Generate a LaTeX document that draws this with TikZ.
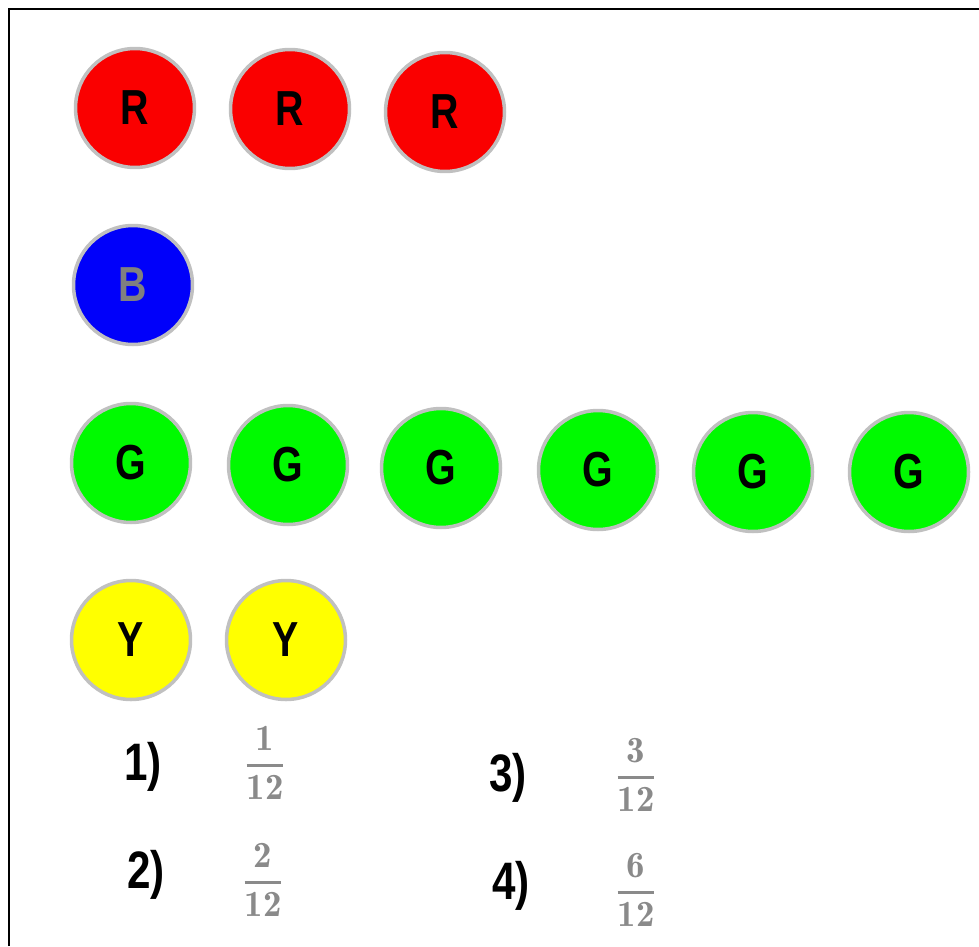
\documentclass[tikz,border=0pt]{standalone}
\usepackage{amsmath}
\usepackage{graphicx}
\usepackage{fontspec}
\setsansfont{Liberation Sans}
\definecolor{ballR}{HTML}{FA0000}
\definecolor{ballB}{HTML}{0000FA}
\definecolor{ballG}{HTML}{00FA00}
\definecolor{ballY}{HTML}{FFFF00}
\definecolor{rim}{HTML}{C0C0C0}
\definecolor{fracgray}{HTML}{8A8A8A}
\newcommand{\narrow}[1]{\scalebox{0.8}[1]{#1}}
\newcommand{\grayfrac}[2]{$\genfrac{}{}{1.6pt}{0}{\mathbf{#1}}{\mathbf{#2}}$}
\tikzset{
  ball/.style={circle, draw=rim, line width=2pt, minimum size=2.38cm, inner sep=0pt,
    font=\fontsize{28}{30}\selectfont\sffamily\bfseries},
  red ball/.style={ball, fill=ballR, text=black},
  blue ball/.style={ball, fill=ballB, text=gray},
  green ball/.style={ball, fill=ballG, text=black},
  yellow ball/.style={ball, fill=ballY, text=black},
  choice/.style={font=\fontsize{30}{32}\selectfont\sffamily\bfseries, text=black, inner sep=0pt},
  answer/.style={font=\fontsize{21}{26}\selectfont, text=fracgray, inner sep=0pt},
  frame line/.style={line width=1.6pt, black}
}
\begin{document}
\begin{tikzpicture}[x=0.02cm,y=-0.02cm]
\useasboundingbox (0,0) rectangle (979,946);
\coordinate (ftl) at (9,9);
\coordinate (ftr) at (979,9);
\coordinate (fbl) at (9,946);
\draw[frame line] (fbl) -- (ftl) -- (ftr);

\node[red ball] (r1) at (135,108) {\narrow{R}};
\node[red ball] (r2) at (290,109) {\narrow{R}};
\node[red ball] (r3) at (445,112) {\narrow{R}};

\node[blue ball] (b1) at (133,285) {\narrow{B}};

\node[green ball] (g1) at (131,463) {\narrow{G}};
\node[green ball] (g2) at (288,465) {\narrow{G}};
\node[green ball] (g3) at (441,468) {\narrow{G}};
\node[green ball] (g4) at (598,470) {\narrow{G}};
\node[green ball] (g5) at (753,472) {\narrow{G}};
\node[green ball] (g6) at (909,472) {\narrow{G}};

\node[yellow ball] (y1) at (131,640) {\narrow{Y}};
\node[yellow ball] (y2) at (286,640) {\narrow{Y}};

\node[choice] (c1) at (143,767) {\narrow{1)}};
\node[choice] (c2) at (146,875) {\narrow{2)}};
\node[choice] (c3) at (508,778) {\narrow{3)}};
\node[choice] (c4) at (511,886) {\narrow{4)}};

\node[answer] (a1) at (265,763) {\grayfrac{1}{12}};
\node[answer] (a2) at (263,880) {\grayfrac{2}{12}};
\node[answer] (a3) at (636,775) {\grayfrac{3}{12}};
\node[answer] (a4) at (636,890) {\grayfrac{6}{12}};
\end{tikzpicture}
\end{document}
